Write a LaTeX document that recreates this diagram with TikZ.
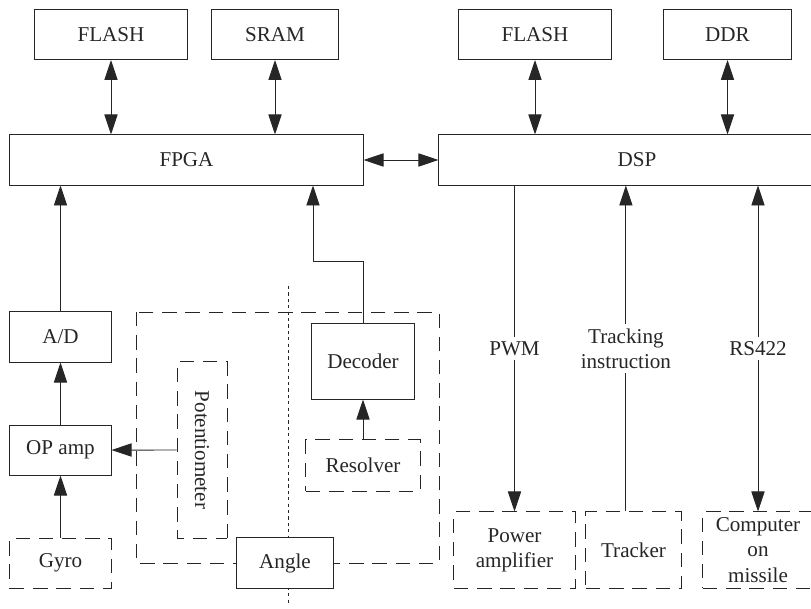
\documentclass[tikz,border=0pt]{standalone}
\usepackage{fontspec}
\setmainfont{Liberation Serif}
\usetikzlibrary{shapes.geometric, arrows.meta}
\tikzstyle{block} = [rectangle, minimum height=1.25cm, text centered, draw=black!85, line width=0.7pt, fill=white, text=black!85]
\tikzstyle{dblock} = [block, dash pattern=on 3.6mm off 2.2mm]
\tikzstyle{line} = [line width=0.7pt, draw=black!85]
\tikzstyle{arrow} = [line, ->, >={Triangle[length=5mm,width=3.3mm]}]
\tikzstyle{darrow} = [line, <->, >={Triangle[length=5mm,width=3.3mm]}]
\tikzstyle{tag} = [fill=white, text=black!85, align=center]

\begin{document}
\begin{tikzpicture}[x=0.025cm, y=-0.025cm, every node/.style={font=\fontsize{15}{18}\selectfont}]
\useasboundingbox (0,0) rectangle (811,609);

%% marco del sensor de angulo y linea de separacion
\draw [line, dash pattern=on 3.6mm off 2.2mm] (136,312) rectangle (439,563);
\draw [line, dash pattern=on 0.08cm off 0.08cm] (288,286) -- (288,605);

\node (flasha) [block, minimum width=3.8cm] at (111,34.5) {FLASH};
\node (sram) [block, minimum width=3.15cm] at (275,34.5) {SRAM};
\node (flashb) [block, minimum width=3.8cm] at (535,34.5) {FLASH};
\node (ddr) [block, minimum width=3.175cm] at (727.5,34.5) {DDR};
\node (fpga) [block, minimum width=8.825cm] at (186.5,160) {FPGA};
\node (dsp) [block, minimum width=9.9cm] at (637,160) {DSP};

\node (ad) [block, minimum width=2.525cm] at (60.5,337) {A/D};
\node (opamp) [block, minimum width=2.525cm, below of=ad, node distance=2.825cm] {OP amp};
\node (gyro) [dblock, minimum width=2.525cm, below of=opamp, node distance=2.825cm] {Gyro};

\node (pot) [dblock, rotate=-90, minimum width=4.4cm, minimum height=1.25cm] at (202,450) {Potentiometer};
\node (dec) [block, minimum width=2.55cm, minimum height=1.875cm] at (363,361.5) {Decoder};
\node (res) [dblock, minimum width=2.85cm, minimum height=1.275cm] at (363,465.5) {Resolver};
\node (angle) [block, minimum width=2.4cm] at (285,563) {Angle};

\node (pamp) [dblock, minimum width=3.025cm, minimum height=1.9cm, align=center, inner ysep=0pt] at (514.5,550) {Power\\amplifier};
\node (trk) [dblock, minimum width=2.375cm, minimum height=1.9cm] at (633.5,550) {Tracker};
\node (comp) [dblock, minimum width=2.75cm, minimum height=1.9cm, align=center, inner ysep=0pt] at (758,550) {Computer\\on\\missile};

%% las flechas van despues de los bloques
\draw [darrow] (flasha) -- (flasha |- fpga.north);
\draw [darrow] (sram) -- (sram |- fpga.north);
\draw [darrow] (flashb) -- (flashb |- dsp.north);
\draw [darrow] (ddr) -- (ddr |- dsp.north);
\draw [darrow] (fpga) -- (dsp);

\draw [arrow] (ad) -- (ad |- fpga.south);
\draw [arrow] (opamp) -- (ad);
\draw [arrow] (gyro) -- (opamp);
\draw [arrow] (pot.south) -- (opamp.east);
\draw [arrow] (res) -- (dec);
\coordinate (bend) at (313,261);
\draw [arrow] (dec.north) |- (bend) -- (bend |- fpga.south);

\coordinate (trkin) at ([xshift=-0.19cm]trk.north);
\draw [arrow] (dsp.south -| pamp.north) -- node[tag] {PWM} (pamp.north);
\draw [arrow] (trkin) -- node[tag] {Tracking\\instruction} (trkin |- dsp.south);
\draw [darrow] (dsp.south -| comp.north) -- node[tag] {RS422} (comp.north);

\end{tikzpicture}
\end{document}
